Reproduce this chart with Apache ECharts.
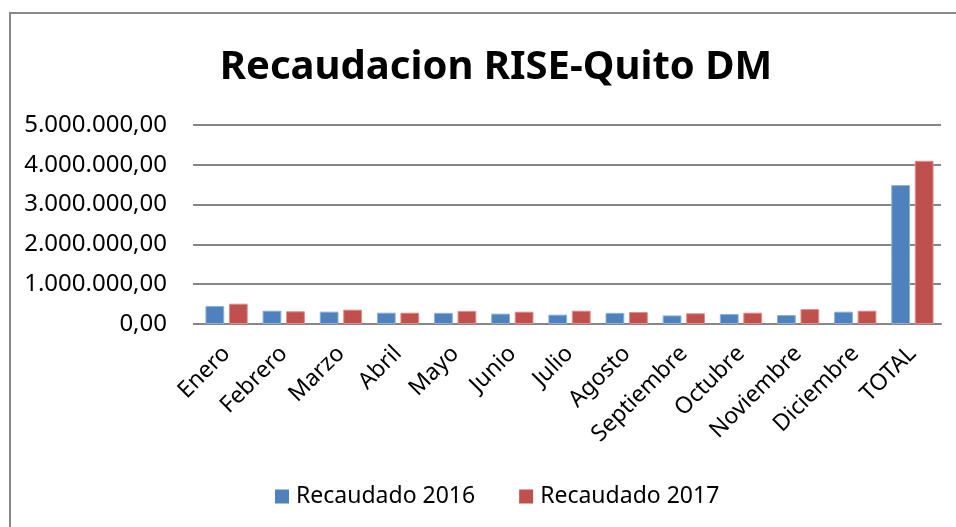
<!DOCTYPE html>
<html>
<head>
<meta charset="utf-8">
<script src="https://cdn.jsdelivr.net/npm/echarts@6/dist/echarts.min.js"></script>
<style>
  html, body { margin: 0; padding: 0; background: #fff; }
  #main { width: 956px; height: 527px; }
</style>
</head>
<body>
<div id="main"></div>
<script>
  var meses = ['Enero', 'Febrero', 'Marzo', 'Abril', 'Mayo', 'Junio', 'Julio', 'Agosto',
    'Septiembre', 'Octubre', 'Noviembre', 'Diciembre', 'TOTAL'];
  var recaudado2016 = [450000, 335000, 310000, 285000, 280000, 260000, 235000, 280000,
    215000, 250000, 225000, 310000, 3490000];
  var recaudado2017 = [510000, 320000, 360000, 285000, 330000, 310000, 335000, 300000,
    270000, 285000, 375000, 335000, 4100000];

  // 5.000.000,00
  function fmt(v) {
    var s = Math.round(v).toString().replace(/\B(?=(\d{3})+(?!\d))/g, '.');
    return s + ',00';
  }

  var fuente = '"Noto Sans", "Open Sans", sans-serif';
  var myChart = echarts.init(document.getElementById('main'));
  var option = {
    animation: false,
    textStyle: { fontFamily: fuente },
    graphic: [{
      type: 'rect',
      shape: { x: 10, y: 13, width: 1000, height: 600 },
      style: { fill: 'none', stroke: '#888888', lineWidth: 2 }
    }],
    title: {
      text: 'Recaudacion RISE-Quito DM',
      left: 491,
      top: 43,
      textAlign: 'center',
      textStyle: { fontSize: 40, fontWeight: 'bold', color: '#000', fontFamily: fuente }
    },
    legend: {
      bottom: 14,
      left: 270,
      itemWidth: 14,
      itemHeight: 14,
      itemGap: 44,
      icon: 'rect',
      itemStyle: { borderWidth: 0 },
      textStyle: { fontSize: 23, color: '#000', fontFamily: fuente, padding: [0, 0, 0, 2] },
      data: ['Recaudado 2016', 'Recaudado 2017']
    },
    grid: { left: 198, right: 15, top: 125, bottom: 203 },
    xAxis: {
      type: 'category',
      data: meses,
      axisLine: { lineStyle: { color: '#868686', width: 2 } },
      axisTick: { show: false },
      axisLabel: { rotate: 45, fontSize: 23, color: '#000', margin: 26, interval: 0 }
    },
    yAxis: {
      type: 'value',
      min: 0,
      max: 5000000,
      interval: 1000000,
      axisLine: { show: false },
      axisTick: { show: true, length: 5, lineStyle: { color: '#868686', width: 2 } },
      splitLine: { lineStyle: { color: '#868686', width: 2 } },
      axisLabel: { fontSize: 24, color: '#000', margin: 31, formatter: fmt }
    },
    series: [
      {
        name: 'Recaudado 2016',
        type: 'bar',
        data: recaudado2016,
        barGap: '25%',
        barCategoryGap: '26%',
        itemStyle: { color: '#4F81BD', borderColor: '#8DB0DB', borderWidth: 1 }
      },
      {
        name: 'Recaudado 2017',
        type: 'bar',
        data: recaudado2017,
        itemStyle: { color: '#C0504D', borderColor: '#E08E8C', borderWidth: 1 }
      }
    ]
  };
  myChart.setOption(option);
</script>
</body>
</html>
